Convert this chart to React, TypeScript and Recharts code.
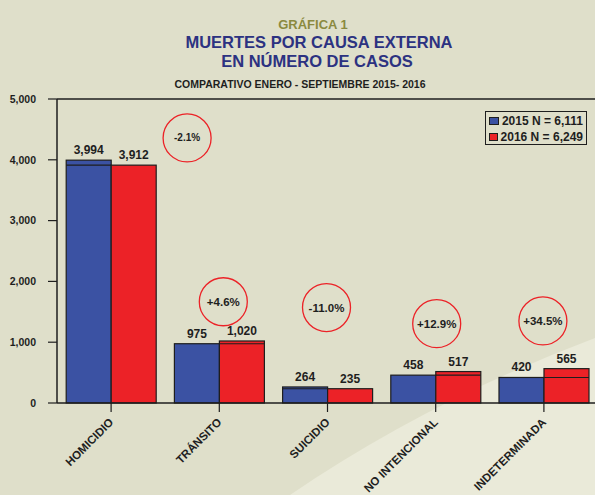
import React from "react";
import {
  BarChart,
  Bar,
  XAxis,
  YAxis,
  LabelList,
  ReferenceLine,
  ReferenceDot,
} from "recharts";

// data
const causes = ["HOMICIDIO", "TRÁNSITO", "SUICIDIO", "NO INTENCIONAL", "INDETERMINADA"];
const deaths2015 = [3994, 975, 264, 458, 420];
const deaths2016 = [3912, 1020, 235, 517, 565];
const changeLabels = ["-2.1%", "+4.6%", "-11.0%", "+12.9%", "+34.5%"];
const yTicks = [0, 1000, 2000, 3000, 4000, 5000];
const legendNames = ["2015 N = 6,111", "2016 N = 6,249"];

// where the red circles sit (value height in y units, pixel shift from tick)
const circleY = [4360, 1665, 1570, 1305, 1350];
const circleDx = [76, 4, -1, 1, -1];
const circleFont = [10, 11.5, 11.5, 11.5, 11.5];

const BLUE = "#3B52A3";
const RED = "#EC2227";
const INK = "#1E1E1E";
const FONT = "'Liberation Sans', Arial, sans-serif";

const data = causes.map((c, i) => ({
  cause: c,
  y2015: deaths2015[i],
  y2016: deaths2016[i],
}));

const fmt = (v: any) => Number(v).toLocaleString("en-US");

// bar with the thin line the original shows where the shorter partner bar tops out
function makeBar(otherKey: string) {
  return (props: any) => {
    const { x, y, width, height, fill, payload, value } = props;
    const v = Array.isArray(value) ? value[1] - value[0] : value;
    const other = payload[otherKey];
    const base = y + height;
    const lineY = other < v ? base - (height * other) / v : null;
    return (
      <g>
        <rect x={x} y={y} width={width} height={height} fill={fill} stroke={INK} strokeWidth={1.2} />
        {lineY !== null && (
          <line x1={x} x2={x + width} y1={lineY} y2={lineY} stroke={INK} strokeWidth={1.1} />
        )}
      </g>
    );
  };
}

function CauseTick(props: any) {
  const { x, y, payload } = props;
  return (
    <g transform={`translate(${x + 3},${y + 9})`}>
      <text
        x={0}
        y={0}
        transform="rotate(-45)"
        textAnchor="end"
        fontSize={11.5}
        fontWeight="bold"
        fill={INK}
        fontFamily={FONT}
      >
        {payload.value}
      </text>
    </g>
  );
}

function makeCircle(i: number) {
  return (props: any) => {
    const cx = props.cx + circleDx[i];
    const cy = props.cy;
    return (
      <g>
        <circle cx={cx} cy={cy} r={24} fill="none" stroke={RED} strokeWidth={1.3} />
        <text
          x={cx}
          y={cy}
          dy="0.35em"
          textAnchor="middle"
          fontSize={circleFont[i]}
          fontWeight="bold"
          fill={INK}
          fontFamily={FONT}
        >
          {changeLabels[i]}
        </text>
      </g>
    );
  };
}

function LegendBox() {
  const colors = [BLUE, RED];
  return (
    <div
      style={{
        position: "absolute",
        left: 485,
        top: 111,
        width: 102,
        height: 34,
        border: `1.5px solid ${INK}`,
        padding: "1px 3px 0",
        boxSizing: "border-box",
        fontFamily: FONT,
        fontSize: 12,
        fontWeight: "bold",
        color: INK,
        lineHeight: "16px",
      }}
    >
      {legendNames.map((n, i) => (
        <div key={i} style={{ display: "flex", alignItems: "center", gap: 3, whiteSpace: "nowrap" }}>
          <span
            style={{
              display: "inline-block",
              width: 9,
              height: 6,
              background: colors[i],
              border: `1px solid ${INK}`,
            }}
          />
          <span>{n}</span>
        </div>
      ))}
    </div>
  );
}

export default function App() {
  return (
    <div
      style={{
        position: "absolute",
        left: 0,
        top: 0,
        width: 595,
        height: 495,
        overflow: "hidden",
        background: "#DFDFCA",
        fontFamily: FONT,
      }}
    >
      <svg width={595} height={495} style={{ position: "absolute", left: 0, top: 0 }}>
        <path d="M 290 495 Q 430 400 595 338 L 595 495 Z" fill="#EAEAD9" />
        <g fontFamily={FONT} fontWeight="bold" textAnchor="middle">
          <text x={313} y={29} fontSize={13} fill="#8B8A3F">
            GRÁFICA 1
          </text>
          <text x={319} y={48} fontSize={16.5} fill="#2C3281">
            MUERTES POR CAUSA EXTERNA
          </text>
          <text x={317} y={67} fontSize={16.5} fill="#2C3281">
            EN NÚMERO DE CASOS
          </text>
          <text x={300} y={88} fontSize={10.5} fill={INK}>
            COMPARATIVO ENERO - SEPTIEMBRE 2015- 2016
          </text>
        </g>
      </svg>
      <div style={{ position: "absolute", left: 0, top: 0 }}>
        <BarChart
          width={598}
          height={495}
          data={data}
          margin={{ top: 99, right: 0, bottom: 62, left: 0 }}
          barCategoryGap="8.5%"
          barGap={0}
        >
          <XAxis
            dataKey="cause"
            interval={0}
            height={30}
            axisLine={{ stroke: INK, strokeWidth: 1.5 }}
            tickLine={{ stroke: INK, strokeWidth: 1.2 }}
            tickSize={9}
            tick={<CauseTick />}
          />
          <YAxis
            width={57}
            domain={[0, 5000]}
            ticks={yTicks}
            interval={0}
            axisLine={{ stroke: INK, strokeWidth: 1.5 }}
            tickLine={{ stroke: INK, strokeWidth: 1.2 }}
            tickSize={9}
            tickMargin={12}
            tickFormatter={fmt}
            tick={{ fontSize: 10.5, fontWeight: "bold", fill: INK, fontFamily: FONT }}
          />
          <ReferenceLine y={5000} stroke={INK} strokeWidth={1.5} />
          <Bar
            dataKey="y2015"
            name={legendNames[0]}
            fill={BLUE}
            shape={makeBar("y2016")}
            isAnimationActive={false}
          >
            <LabelList
              dataKey="y2015"
              position="top"
              offset={6}
              formatter={fmt}
              style={{ fontSize: 12, fontWeight: "bold", fill: INK, fontFamily: FONT }}
            />
          </Bar>
          <Bar
            dataKey="y2016"
            name={legendNames[1]}
            fill={RED}
            shape={makeBar("y2015")}
            isAnimationActive={false}
          >
            <LabelList
              dataKey="y2016"
              position="top"
              offset={6}
              formatter={fmt}
              style={{ fontSize: 12, fontWeight: "bold", fill: INK, fontFamily: FONT }}
            />
          </Bar>
          {causes.map((c, i) => (
            <ReferenceDot key={c} x={c} y={circleY[i]} shape={makeCircle(i)} />
          ))}
        </BarChart>
      </div>
      <LegendBox />
    </div>
  );
}
